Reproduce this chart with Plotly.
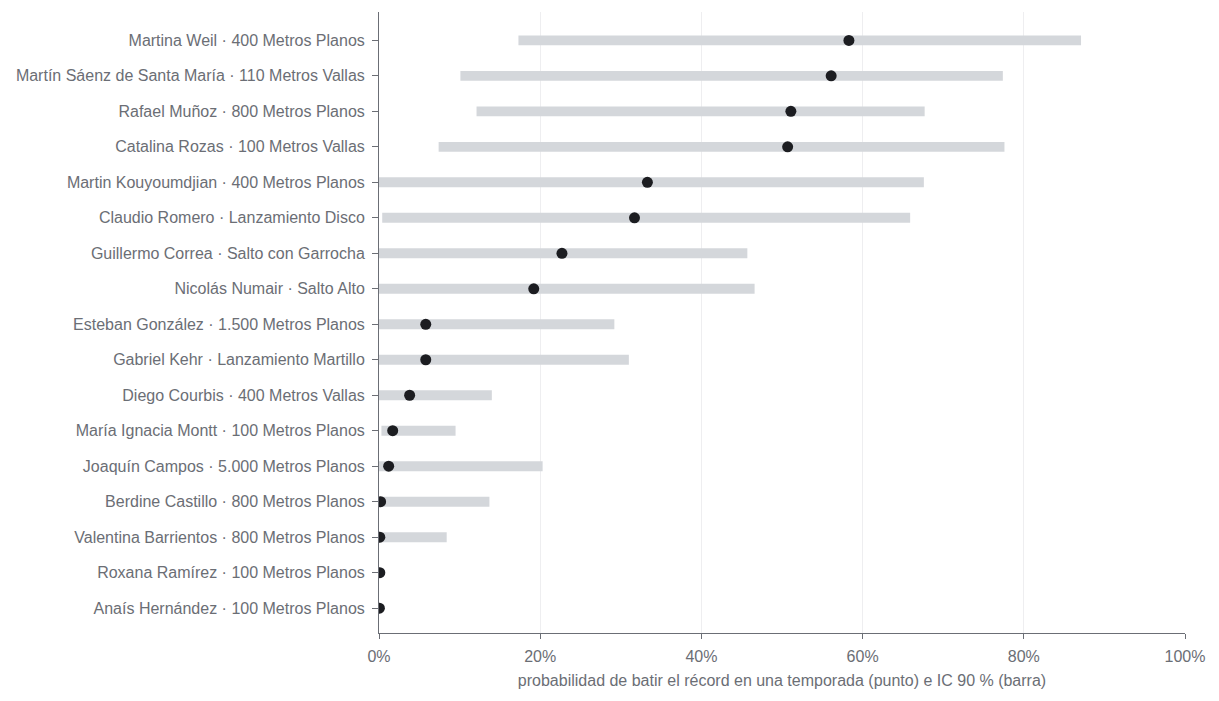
import plotly.graph_objects as go

# athletes, top to bottom as shown
atletas = [
    "Martina Weil · 400 Metros Planos",
    "Martín Sáenz de Santa María · 110 Metros Vallas",
    "Rafael Muñoz · 800 Metros Planos",
    "Catalina Rozas · 100 Metros Vallas",
    "Martin Kouyoumdjian · 400 Metros Planos",
    "Claudio Romero · Lanzamiento Disco",
    "Guillermo Correa · Salto con Garrocha",
    "Nicolás Numair · Salto Alto",
    "Esteban González · 1.500 Metros Planos",
    "Gabriel Kehr · Lanzamiento Martillo",
    "Diego Courbis · 400 Metros Vallas",
    "María Ignacia Montt · 100 Metros Planos",
    "Joaquín Campos · 5.000 Metros Planos",
    "Berdine Castillo · 800 Metros Planos",
    "Valentina Barrientos · 800 Metros Planos",
    "Roxana Ramírez · 100 Metros Planos",
    "Anaís Hernández · 100 Metros Planos",
]

# point estimate and 90% interval, in fractions
prob = [0.583, 0.561, 0.511, 0.507, 0.333, 0.317, 0.227, 0.192, 0.058, 0.058,
        0.038, 0.017, 0.012, 0.002, 0.001, 0.001, 0.0005]
ic_bajo = [0.173, 0.101, 0.121, 0.074, 0.0, 0.004, 0.0, 0.0, 0.0, 0.0,
           0.0, 0.003, 0.0, 0.0, 0.0, 0.0, 0.0]
ic_alto = [0.871, 0.774, 0.677, 0.776, 0.676, 0.659, 0.457, 0.466, 0.292, 0.310,
           0.140, 0.095, 0.203, 0.137, 0.084, 0.003, 0.001]

texto = "#6b6e75"

fig = go.Figure()
fig.add_trace(go.Bar(
    y=atletas,
    x=[a - b for a, b in zip(ic_alto, ic_bajo)],
    base=ic_bajo,
    orientation="h",
    width=0.28,
    marker=dict(color="#d4d7db", line=dict(width=0)),
    hoverinfo="skip",
))
fig.add_trace(go.Scatter(
    y=atletas,
    x=prob,
    mode="markers",
    marker=dict(color="#1c1d21", size=11),
))

fig.update_layout(
    width=1219, height=701,
    margin=dict(l=371, r=42, t=4, b=76),
    plot_bgcolor="white", paper_bgcolor="white",
    showlegend=False,
    font=dict(family="Liberation Sans, Arial, sans-serif", size=16, color=texto),
)
fig.update_xaxes(
    range=[0, 1], tickformat=".0%", tickvals=[0, 0.2, 0.4, 0.6, 0.8, 1.0],
    showgrid=True, gridcolor="#eeeef0", gridwidth=1, zeroline=False,
    showline=True, linecolor="#6b6e75", linewidth=1,
    ticks="outside", ticklen=5, tickcolor="#6b6e75",
    ticklabelstandoff=4,
    title=dict(text="probabilidad de batir el récord en una temporada (punto) e IC 90 % (barra)",
               font=dict(size=16), standoff=10),
)
fig.update_yaxes(
    categoryorder="array", categoryarray=atletas[::-1],
    range=[-0.7, 16.8], showgrid=False, zeroline=False,
    showline=True, linecolor="#6b6e75", linewidth=1,
    ticks="outside", ticklen=6, tickcolor="#6b6e75",
    ticklabelstandoff=4,
)

fig.write_html("out.html")
